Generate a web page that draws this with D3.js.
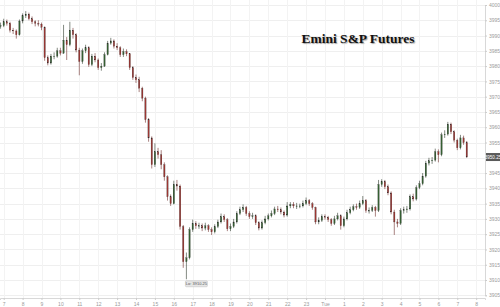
<!DOCTYPE html>
<html><head><meta charset="utf-8">
<script src="https://cdn.jsdelivr.net/npm/d3@7"></script>
<style>
html,body{margin:0;padding:0;background:#fff;overflow:hidden}
svg{display:block}
</style></head>
<body>
<svg id="c" width="500" height="307"></svg>
<script>
// ---- data ----
const title = "Emini S&P Futures";
const startHour = 6 + 50/60;      // first bar 06:50
const barMinutes = 10;
const firstOpen = 3993.0;
const closes = [3993.25,3994.5,3994.0,3991.75,3991.5,3990.25,3994.75,3996.5,3997.0,3995.5,
3994.5,3994.0,3993.75,3992.75,3982.75,3981.0,3983.25,3983.25,3985.0,3984.25,
3988.5,3987.0,3991.75,3990.25,3985.25,3981.5,3985.0,3986.0,3980.5,3983.25,
3982.0,3979.5,3980.0,3983.75,3987.5,3988.25,3986.5,3986.0,3983.75,3984.75,
3984.0,3979.5,3976.25,3975.5,3972.75,3969.5,3962.5,3956.5,3947.75,3952.0,
3951.0,3947.75,3943.75,3937.25,3935.0,3941.25,3940.75,3927.5,3916.0,3917.25,
3926.5,3928.5,3927.75,3927.75,3927.0,3927.75,3926.5,3925.75,3927.5,3929.0,
3930.75,3929.75,3926.75,3927.5,3929.0,3931.75,3933.0,3933.75,3931.75,3930.75,
3931.0,3928.75,3927.0,3928.75,3930.0,3931.0,3931.75,3933.25,3933.0,3932.25,
3931.25,3934.25,3934.75,3934.25,3934.25,3934.25,3935.0,3936.0,3935.0,3933.75,
3929.0,3929.5,3930.75,3930.5,3929.75,3928.5,3930.0,3931.0,3927.75,3930.0,
3932.0,3933.0,3934.0,3933.75,3935.0,3936.0,3932.75,3932.75,3933.75,3932.75,
3941.25,3942.25,3940.5,3938.5,3932.25,3929.0,3928.5,3932.75,3933.0,3933.25,
3937.25,3936.5,3940.25,3941.5,3944.0,3948.25,3949.0,3949.25,3952.0,3951.0,
3957.5,3957.75,3961.0,3958.5,3955.75,3953.25,3956.5,3955.0,3950.25];
const highs = [3994.25,3995.5,3995.25,3994.5,3992.5,3992.0,3995.25,3997.25,3998.0,3997.5,
3996.25,3995.0,3995.0,3994.25,3993.0,3983.5,3984.0,3984.5,3986.0,3986.0,
3993.5,3989.5,3994.5,3992.5,3990.75,3986.0,3985.75,3987.0,3986.5,3984.0,
3984.25,3982.5,3981.0,3984.5,3988.25,3989.25,3988.75,3987.5,3986.5,3985.75,
3985.5,3984.25,3980.0,3977.25,3976.5,3973.25,3970.0,3963.0,3957.0,3954.75,
3953.25,3952.5,3948.5,3944.25,3938.0,3942.5,3942.75,3941.25,3928.0,3919.0,
3927.25,3929.75,3929.25,3928.75,3928.5,3928.75,3928.25,3927.25,3928.25,3929.75,
3931.75,3931.5,3930.25,3928.5,3930.0,3932.5,3934.0,3934.75,3934.25,3932.5,
3932.0,3931.5,3929.25,3929.5,3931.0,3931.75,3932.75,3934.0,3934.25,3933.75,
3932.75,3935.5,3935.5,3935.5,3935.25,3935.0,3936.0,3937.0,3936.5,3935.5,
3934.0,3930.5,3931.5,3931.5,3931.0,3930.25,3931.0,3932.0,3931.5,3930.75,
3933.0,3934.0,3934.75,3935.0,3936.0,3937.5,3936.5,3933.75,3934.5,3934.25,
3942.75,3943.0,3942.75,3941.25,3939.0,3933.0,3930.0,3933.5,3934.0,3934.25,
3938.0,3938.25,3941.0,3942.5,3945.0,3949.0,3950.0,3950.25,3953.0,3952.75,
3958.25,3959.0,3961.75,3961.5,3959.0,3956.25,3957.5,3957.25,3955.5];
const lows = [3992.25,3992.75,3993.25,3991.0,3990.5,3989.0,3990.0,3994.0,3995.75,3995.0,
3993.75,3993.0,3993.0,3991.75,3981.75,3980.25,3980.5,3982.25,3982.75,3983.5,
3984.0,3982.0,3986.5,3989.0,3984.5,3977.0,3980.75,3984.25,3979.75,3980.0,
3981.25,3978.75,3978.5,3979.75,3983.5,3987.0,3985.75,3985.25,3983.0,3983.0,
3983.25,3978.75,3975.5,3974.5,3971.5,3968.5,3961.5,3955.25,3946.5,3947.0,
3949.75,3946.25,3942.5,3936.0,3934.25,3934.75,3939.25,3926.5,3914.0,3910.25,
3916.75,3925.75,3926.75,3926.75,3926.0,3926.25,3925.75,3924.75,3925.25,3927.0,
3928.5,3929.0,3926.0,3926.0,3927.0,3928.5,3931.25,3932.25,3931.0,3930.0,
3930.0,3928.0,3926.25,3926.5,3928.25,3929.5,3930.5,3931.25,3932.25,3931.5,
3930.5,3930.75,3933.5,3933.5,3933.25,3933.5,3933.75,3934.5,3934.25,3933.0,
3928.25,3928.25,3929.0,3929.75,3929.0,3927.75,3928.0,3929.5,3926.5,3927.25,
3929.5,3931.5,3932.5,3933.0,3933.25,3934.5,3932.0,3931.75,3932.25,3930.75,
3932.25,3940.5,3939.75,3937.75,3931.5,3924.75,3927.25,3928.0,3931.75,3932.0,
3932.75,3935.75,3936.0,3939.75,3941.0,3943.5,3947.5,3948.0,3948.75,3948.5,
3950.5,3956.5,3957.25,3957.75,3955.0,3952.5,3952.75,3954.25,3950.0];
const priceTicks = [4000,3995,3990,3985,3980,3975,3970,3965,3960,3955,3950,3945,3940,3935,3930,3925,3920,3915,3910,3905];
const hourTicks = [7,8,9,10,11,12,13,14,15,16,17,18,19,20,21,22,23,24,25,26,27,28,29,30,31,32];
const dayLabel = "Tue";
const lowLabel = "Lo: 3910.25";
const lastLabel = "3950.25";

// ---- build bars ----
const bars = closes.map((c,i)=>({
  t: startHour + i*barMinutes/60,
  o: i===0 ? firstOpen : closes[i-1],
  h: highs[i], l: lows[i], c: c
}));

const svg = d3.select("#c");
const plotRight = 485, plotBottom = 298;
const x = d3.scaleLinear().domain([6.804, 32.466]).range([0, plotRight]);
const y = d3.scaleLinear().domain([3905, 4000]).range([295.3, 5]);
const last = bars[bars.length-1];
const ty = y(last.c);

// grid
const g = svg.append("g");
g.selectAll("line.h").data(priceTicks).join("line")
  .attr("x1",0).attr("x2",plotRight)
  .attr("y1",d=>Math.round(y(d))+0.5).attr("y2",d=>Math.round(y(d))+0.5)
  .attr("stroke","#efefef").attr("stroke-width",1);
g.selectAll("line.v").data(hourTicks).join("line")
  .attr("y1",0).attr("y2",plotBottom)
  .attr("x1",d=>Math.round(x(d))+0.5).attr("x2",d=>Math.round(x(d))+0.5)
  .attr("stroke","#f3f3f3").attr("stroke-width",1);

// right axis
const ax = d3.axisRight(y).tickValues(priceTicks).tickSize(2).tickFormat(d3.format("d"));
const ya = svg.append("g").attr("transform",`translate(${plotRight},0)`).call(ax);
ya.select(".domain").attr("stroke","#d8d8d8");
ya.selectAll(".tick line").attr("stroke","#ccc");
ya.selectAll("text").attr("fill","#9a9a9a").attr("font-size",5).attr("font-family","Liberation Sans, Arial, sans-serif").attr("x",4);
// hide the tick label covered by the last-price tag
ya.selectAll(".tick").filter(d=>Math.abs(y(d)-ty)<6).select("text").remove();

// bottom axis
const bx = d3.axisBottom(x).tickValues(hourTicks).tickSize(2)
  .tickFormat(d=> d<24 ? String(d) : (d===24 ? dayLabel : String(d-24)));
const xa = svg.append("g").attr("transform",`translate(0,${plotBottom})`).call(bx);
xa.select(".domain").attr("stroke","#d8d8d8");
xa.selectAll(".tick line").attr("stroke","#ccc");
xa.selectAll("text").attr("fill","#9a9a9a").attr("font-size",5).attr("font-family","Liberation Sans, Arial, sans-serif").attr("y",4);

// candles
const up="#355f32", dn="#9c3733";
const cg = svg.append("g");
const bw = 1.4;
cg.selectAll("line.w").data(bars).join("line")
  .attr("x1",d=>x(d.t)).attr("x2",d=>x(d.t))
  .attr("y1",d=>y(d.h)).attr("y2",d=>y(d.l))
  .attr("stroke",d=>d.c>=d.o?"#2f3a2e":"#6e2f2c").attr("stroke-width",0.6);
cg.selectAll("rect").data(bars).join("rect")
  .attr("x",d=>x(d.t)-bw/2).attr("width",bw)
  .attr("y",d=>y(Math.max(d.o,d.c)))
  .attr("height",d=>Math.max(0.6, Math.abs(y(d.o)-y(d.c))))
  .attr("fill",d=>d.c>=d.o?up:dn)
  .attr("stroke","#2a2a2a").attr("stroke-width",0.2);

// low label
const lowBar = bars.reduce((a,b)=> b.l<a.l? b:a);
const lx = x(lowBar.t), ly = y(lowBar.l);
const lg = svg.append("g");
lg.append("rect").attr("x",lx-1).attr("y",ly+1.5).attr("width",22).attr("height",6)
  .attr("fill","#e6e6e6").attr("stroke","#bdbdbd").attr("stroke-width",0.5).attr("rx",1);
lg.append("text").attr("x",lx+10).attr("y",ly+6).attr("text-anchor","middle")
  .attr("font-size",4).attr("fill","#555").attr("font-family","Liberation Sans, Arial, sans-serif").text(lowLabel);

// last price label
svg.append("rect").attr("x",plotRight+1).attr("y",ty-4).attr("width",14).attr("height",8)
  .attr("fill","#5a5a5a");
svg.append("text").attr("x",plotRight+8).attr("y",ty+1.8).attr("text-anchor","middle")
  .attr("font-size",4.6).attr("fill","#fff").attr("font-family","Liberation Sans, Arial, sans-serif").text(lastLabel);

// title
svg.append("text").attr("x",358).attr("y",43).attr("text-anchor","middle")
  .attr("font-family","Liberation Serif, Times New Roman, serif").attr("font-weight","bold")
  .attr("font-size",13.5).attr("fill","#111")
  .style("text-shadow","1px 1px 1px rgba(0,0,0,0.35)")
  .text(title);
</script>
</body></html>
